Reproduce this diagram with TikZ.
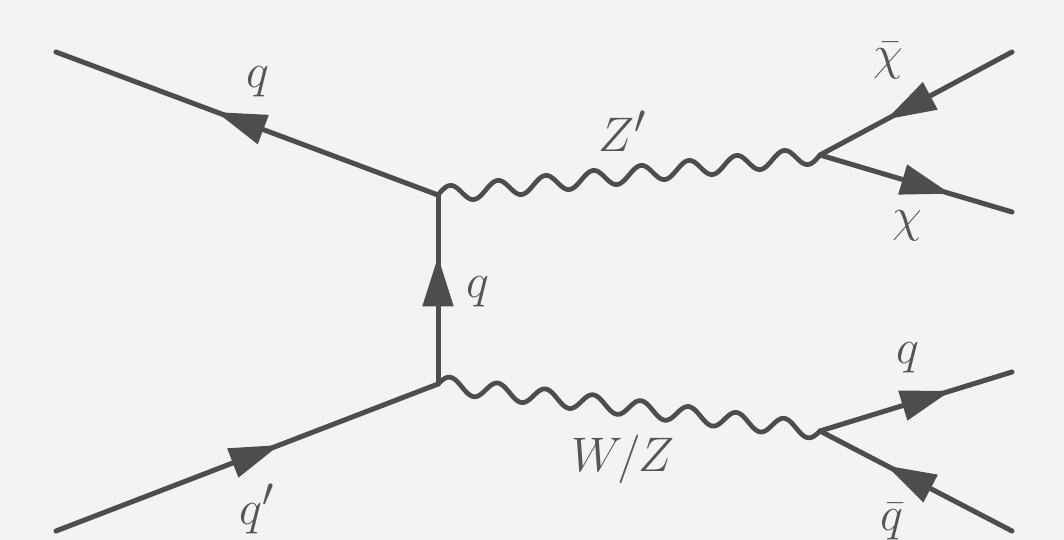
\documentclass[tikz,border=0pt]{standalone}
\usetikzlibrary{arrows.meta,decorations.markings,calc}
\definecolor{bgc}{HTML}{F3F3F3}
\definecolor{linec}{HTML}{4D4D4D}
\definecolor{textc}{HTML}{555555}
\tikzset{
 fermion/.style={draw=linec,line width=5pt,line cap=round,postaction={decorate},
   decoration={markings,mark=at position #1 with {\arrow[linec]{Triangle[length=50pt,width=30pt]}}}},
 boson/.style={draw=linec,line width=4.7pt,line cap=round,line join=round},
 lab/.style={text=textc,inner sep=0pt,font=\Huge,scale=1.95}
}
\newcommand{\wavepath}[2]{%
  \path[boson] let \p1=(#1),\p2=(#2) in
    plot[variable=\t,domain=0:1,samples=193]
    ({\x1+(\x2-\x1)*\t},{\y1+(\y2-\y1)*\t+8.3pt*sin(2880*\t)});
}
\begin{document}
\begin{tikzpicture}[x=1pt,y=-1pt]
\fill[bgc] (0,0) rectangle (1064,540);
\useasboundingbox (0,0) rectangle (1064,540);
\coordinate (A) at (56,52);
\coordinate (B) at (438,195);
\coordinate (C) at (438,384);
\coordinate (D) at (56,531);
\coordinate (E) at (820,155);
\coordinate (F) at (820,431);
\coordinate (G) at (1012,52);
\coordinate (H) at (1012,212);
\coordinate (I) at (1012,372);
\coordinate (J) at (1012,531);
\path[fermion=.58] (B) -- (A);
\path[fermion=.585] (D) -- (C);
\path[fermion=.675] (C) -- (B);
\path[fermion=.655] (G) -- (E);
\path[fermion=.68] (E) -- (H);
\path[fermion=.68] (F) -- (I);
\path[fermion=.655] (J) -- (F);
\wavepath{B}{E}
\wavepath{C}{F}
\node[lab] (l1) at (258,82) {$q$};
\node[lab] (l2) at (478,292) {$q$};
\node[lab] (l3) at (257,509) {$q'$};
\node[lab] (l4) at (623,131) {$Z'$};
\node[lab] (l5) at (623,459) {$W/Z$};
\node[lab] (l6) at (888,61) {$\bar\chi$};
\node[lab] (l7) at (907,226) {$\chi$};
\node[lab] (l8) at (908,358) {$q$};
\node[lab] (l9) at (892,522) {$\bar q$};
\end{tikzpicture}
\end{document}
